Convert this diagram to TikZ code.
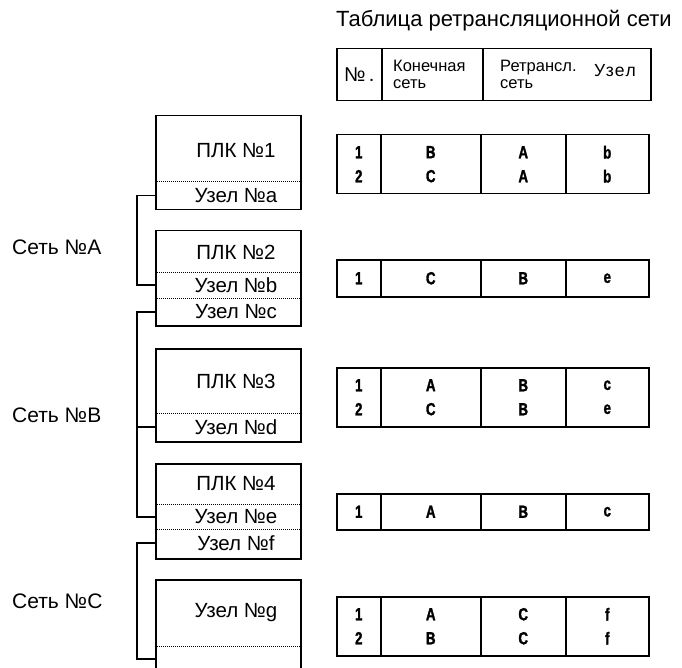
\documentclass[tikz,border=0pt]{standalone}
\usepackage{fontspec}
\setmainfont{Liberation Sans}
\newfontfamily\cellfont[FakeStretch=0.76, FakeBold=1.6]{Liberation Sans Bold}
\usetikzlibrary{positioning}

\begin{document}
\begin{tikzpicture}[x=1pt, y=-1pt,
  plcbox/.style={draw, line width=1.5pt, minimum width=145pt, anchor=north west, inner sep=0pt},
  sect/.style={font=\fontsize{20.5}{22}\selectfont, inner sep=1pt},
  net/.style={font=\fontsize{21}{22}\selectfont, anchor=west, inner sep=0pt},
  bus/.style={line width=1.8pt},
  sep/.style={line width=1pt, dash pattern=on 0.9pt off 1.1pt},
  cell/.style={draw, line width=1.5pt, anchor=north west, inner sep=0pt, align=center, font=\cellfont\fontsize{17.5}{24}\selectfont},
  head/.style={font=\fontsize{16.5}{17}\selectfont, align=left, inner sep=0pt}
]
  \useasboundingbox (0,0) rectangle (682,668);

  % header of the relay table
  \node[font=\fontsize{22}{24}\selectfont, anchor=base west, inner sep=0pt] (title) at (336,27) {Таблица ретрансляционной сети};
  \node[cell, minimum width=45pt, minimum height=52pt] (hno) at (336,48) {};
  \node[cell, minimum width=101pt, minimum height=52pt] (hend) at (381,48) {};
  \node[cell, minimum width=168pt, minimum height=52pt] (hrel) at (482,48) {};
  \node[head, font=\fontsize{20}{20}\selectfont] (hnotxt) at (hno) {№\,.};
  \node[head, anchor=west] (hendtxt) at (393,74) {Конечная\\сеть};
  \node[head, anchor=west] (hreltxt) at (500,74) {Ретрансл.\\сеть};
  \node[head, font=\fontsize{17.5}{17}\addfontfeature{LetterSpace=8}] (hnodetxt) at (615,71) {Узел};

  % rows of the relay table
  \foreach \r/\top/\h/\no/\dst/\via/\nd in {
      1/134/59/{1\\2}/{B\\C}/{A\\A}/{b\\b},
      2/259/37/{1}/{C}/{B}/{e},
      3/367/59/{1\\2}/{A\\C}/{B\\B}/{c\\e},
      4/493/36/{1}/{A}/{B}/{c},
      5/596/59/{1\\2}/{A\\B}/{C\\C}/{f\\f}} {
    \node[cell, minimum width=44pt, minimum height=\h pt] (row\r no) at (336,\top) {\no};
    \node[cell, minimum width=100pt, minimum height=\h pt] (row\r dst) at (380,\top) {\dst};
    \node[cell, minimum width=85pt, minimum height=\h pt] (row\r via) at (480,\top) {\via};
    \node[cell, minimum width=83pt, minimum height=\h pt] (row\r nd) at (565,\top) {\nd};
  }

  % PLC boxes
  \node[plcbox, minimum height=94pt] (box1) at (155,115) {};
  \node[plcbox, minimum height=95pt] (box2) at (155,230) {};
  \node[plcbox, minimum height=93pt] (box3) at (155,348) {};
  \node[plcbox, minimum height=95pt] (box4) at (155,463) {};
  \node[plcbox, minimum height=93pt] (box5) at (155,579) {};

  \draw[sep] (155,182) -- (300,182);
  \draw[sep] (155,272) -- (300,272);
  \draw[sep] (155,298) -- (300,298);
  \draw[sep] (155,413) -- (300,413);
  \draw[sep] (155,504) -- (300,504);
  \draw[sep] (155,529) -- (300,529);
  \draw[sep] (155,646) -- (300,646);

  \node[sect] (plc1) at (236,151) {ПЛК №1};
  \node[sect] (nodea) at (236,195.5) {Узел №a};
  \node[sect] (plc2) at (236,252) {ПЛК №2};
  \node[sect] (nodeb) at (236,285) {Узел №b};
  \node[sect] (nodec) at (236,312) {Узел №c};
  \node[sect] (plc3) at (236,381) {ПЛК №3};
  \node[sect] (noded) at (236,427) {Узел №d};
  \node[sect] (plc4) at (236,484) {ПЛК №4};
  \node[sect] (nodee) at (236,517) {Узел №e};
  \node[sect] (nodef) at (236,543) {Узел №f};
  \node[sect] (nodeg) at (236,613) {Узел №g};
  \coordinate (gtap) at (155,659);

  % networks
  \node[net] (neta) at (12,247) {Сеть №A};
  \node[net] (netb) at (12,415) {Сеть №B};
  \node[net] (netc) at (12,601) {Сеть №C};

  \draw[bus] (box1.west |- nodea) -- ++(-18,0) |- (box2.west |- nodeb);
  \draw[bus] (box2.west |- nodec) -- ++(-18,0) |- (box4.west |- nodee);
  \draw[bus] (box3.west |- noded) -- ++(-18,0);
  \draw[bus] (box4.west |- nodef) -- ++(-18,0) |- (gtap);
\end{tikzpicture}
\end{document}
